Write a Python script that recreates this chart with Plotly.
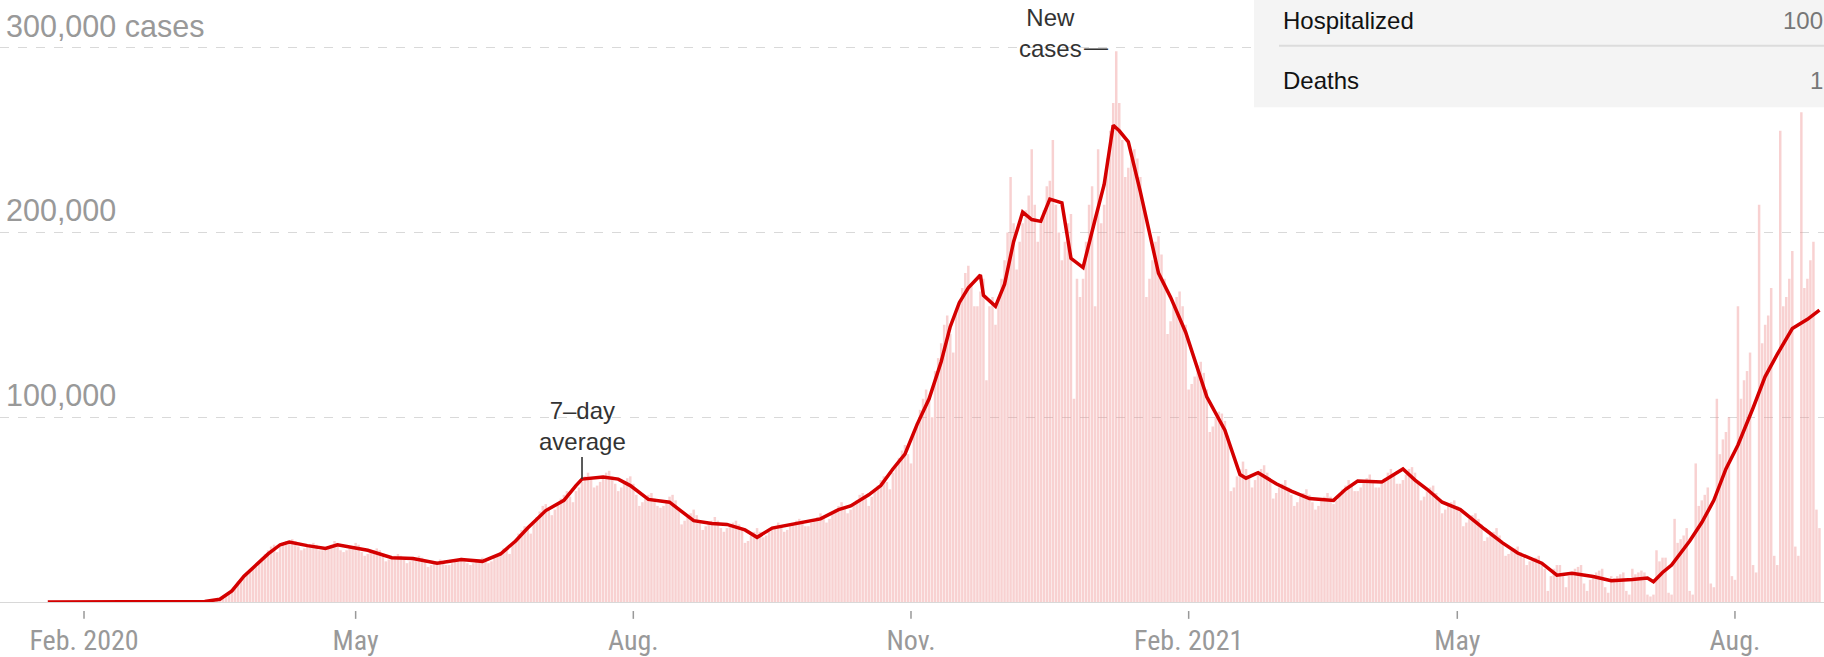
import pandas as pd
import plotly.graph_objects as go

# ---------------- data ----------------
# Daily new cases (thousands), weeks Monday..Sunday starting 2020-01-20
weekly_rows = [
    [0, 0, 0, 0, 0, 0, 0],
    [0, 0, 0, 0, 0, 0, 0],
    [0, 0, 0, 0, 0, 0, 0],
    [0, 0, 0, 0, 0, 0, 0],
    [0, 0, 0, 0, 0, 0, 0],
    [0, 0, 0, 0.01, 0.01, 0.01, 0.02],
    [0.02, 0.03, 0.04, 0.05, 0.07, 0.1, 0.1],
    [0.15, 0.2, 0.3, 0.4, 0.5, 0.6, 0.8],
    [1.0, 1.5, 2.5, 4.0, 5.5, 7, 8],
    [11, 12, 14, 16, 17, 18, 19],
    [22, 24, 26, 28, 30, 31, 27],
    [30, 31, 33, 33, 34, 33, 30],
    [28, 29, 30, 31, 32, 31, 28],
    [28, 29, 30, 31, 33, 32, 28],
    [27, 28, 29, 30, 32, 31, 27],
    [25, 26, 27, 28, 29, 28, 25],
    [22, 23, 24, 25, 26, 25, 23],
    [21, 22, 23, 24, 25, 24, 22],
    [19, 20, 21, 22, 23, 22, 20],
    [20, 21, 22, 23, 24, 23, 21],
    [20, 21, 22, 23, 24, 23, 21],
    [22, 24, 26, 27, 29, 28, 26],
    [31, 34, 37, 39, 41, 40, 37],
    [43, 46, 49, 52, 53, 50, 47],
    [50, 53, 56, 58, 60, 57, 54],
    [60, 62, 65, 68, 70, 67, 62],
    [63, 65, 68, 70, 71, 68, 64],
    [60, 62, 65, 67, 68, 64, 58],
    [52, 54, 56, 58, 59, 56, 52],
    [51, 52, 55, 57, 58, 55, 51],
    [42, 44, 46, 48, 50, 47, 44],
    [39, 41, 43, 44, 46, 44, 40],
    [38, 40, 41, 43, 44, 42, 39],
    [32, 33, 36, 38, 40, 38, 35],
    [36, 38, 40, 41, 43, 41, 38],
    [39, 41, 42, 44, 45, 44, 41],
    [41, 43, 44, 46, 48, 46, 43],
    [45, 48, 50, 52, 54, 51, 48],
    [50, 53, 55, 58, 59, 56, 52],
    [57, 60, 63, 66, 68, 65, 61],
    [70, 74, 78, 82, 85, 80, 75],
    [92, 97, 104, 110, 115, 110, 100],
    [125, 132, 140, 150, 155, 145, 135],
    [158, 163, 170, 178, 182, 172, 160],
    [160, 168, 175, 120, 160, 165, 150],
    [165, 175, 185, 200, 230, 205, 180],
    [195, 205, 212, 220, 245, 215, 195],
    [205, 212, 225, 228, 250, 215, 200],
    [185, 195, 205, 210, 110, 175, 165],
    [175, 195, 215, 225, 160, 245, 205],
    [215, 240, 255, 270, 298, 270, 250],
    [230, 235, 240, 245, 240, 230, 215],
    [165, 175, 185, 195, 198, 188, 175],
    [145, 152, 160, 165, 168, 160, 150],
    [115, 118, 122, 128, 130, 124, 115],
    [92, 95, 100, 103, 102, 98, 90],
    [60, 62, 68, 72, 76, 72, 68],
    [62, 66, 70, 72, 74, 70, 66],
    [56, 59, 62, 64, 66, 62, 58],
    [52, 54, 57, 59, 61, 58, 54],
    [50, 52, 55, 57, 59, 57, 53],
    [55, 58, 61, 63, 66, 64, 60],
    [60, 62, 65, 67, 69, 66, 62],
    [62, 64, 67, 70, 72, 69, 64],
    [64, 66, 69, 72, 73, 70, 65],
    [55, 57, 60, 62, 63, 59, 55],
    [48, 50, 52, 54, 55, 52, 49],
    [41, 43, 45, 47, 48, 45, 42],
    [33, 35, 37, 38, 40, 36, 32],
    [25, 26, 28, 29, 30, 27, 24],
    [20, 22, 23, 24, 25, 21, 18],
    [6, 14, 18, 20, 20, 14, 8],
    [14, 16, 18, 19, 20, 10, 6],
    [12, 14, 16, 17, 18, 8, 5],
    [14, 13, 14, 15, 16, 6, 4],
    [18, 15, 16, 17, 16, 4, 3],
    [4, 28, 22, 24, 24, 5, 4],
    [45, 32, 34, 36, 40, 6, 4],
    [75, 52, 55, 58, 62, 10, 8],
    [110, 80, 88, 92, 100, 14, 12],
    [160, 110, 120, 125, 135, 20, 16],
    [215, 140, 150, 155, 170, 25, 20],
    [255, 160, 165, 175, 190, 30, 25],
    [265, 170, 175, 185, 195, 50, 40],
]
first_day = "2020-01-20"

# 7-day average (thousands)
avg_dates = [
    "2020-01-20", "2020-03-02", "2020-03-12", "2020-03-17", "2020-03-21", "2020-03-25",
    "2020-03-29", "2020-04-02", "2020-04-06", "2020-04-09", "2020-04-15", "2020-04-21",
    "2020-04-25", "2020-04-30", "2020-05-05", "2020-05-13", "2020-05-20", "2020-05-28",
    "2020-06-05", "2020-06-12", "2020-06-18", "2020-06-23", "2020-06-27", "2020-07-03",
    "2020-07-09", "2020-07-13", "2020-07-15", "2020-07-22", "2020-07-27", "2020-07-31",
    "2020-08-06", "2020-08-13", "2020-08-21", "2020-08-27", "2020-09-01", "2020-09-07",
    "2020-09-11", "2020-09-16", "2020-09-24", "2020-10-02", "2020-10-08", "2020-10-12",
    "2020-10-18", "2020-10-22", "2020-10-26", "2020-10-30", "2020-11-03", "2020-11-07",
    "2020-11-11", "2020-11-14", "2020-11-17", "2020-11-20", "2020-11-24", "2020-11-25",
    "2020-11-29", "2020-12-02", "2020-12-05", "2020-12-08", "2020-12-11", "2020-12-14",
    "2020-12-17", "2020-12-21", "2020-12-24", "2020-12-28", "2021-01-01", "2021-01-04",
    "2021-01-07", "2021-01-09", "2021-01-12", "2021-01-16", "2021-01-22", "2021-01-26",
    "2021-01-31", "2021-02-07", "2021-02-13", "2021-02-18", "2021-02-20", "2021-02-24",
    "2021-03-02", "2021-03-07", "2021-03-13", "2021-03-21", "2021-03-25", "2021-03-29",
    "2021-04-06", "2021-04-13", "2021-04-17", "2021-04-21", "2021-04-26", "2021-05-02",
    "2021-05-10", "2021-05-16", "2021-05-21", "2021-05-29", "2021-06-03", "2021-06-08",
    "2021-06-15", "2021-06-21", "2021-06-28", "2021-07-03", "2021-07-05", "2021-07-08",
    "2021-07-11", "2021-07-17", "2021-07-21", "2021-07-25", "2021-07-29", "2021-08-02",
    "2021-08-07", "2021-08-11", "2021-08-15", "2021-08-20", "2021-08-25", "2021-08-29",
]
avg_values = [
    0, 0.05, 0.3, 1.5, 6, 14,
    20, 26, 31, 32.4, 30.5, 29,
    31, 29.5, 28, 24, 23.5, 21,
    23, 22, 26, 33, 40, 49.5,
    55, 63, 66.5, 67.6, 66.5, 63,
    55.5, 54, 44, 42.5, 42, 39,
    35, 40, 42.5, 45, 50, 52,
    58, 63, 72, 80, 96, 110,
    130, 149, 162, 170, 177, 166,
    160, 172, 195, 211, 207, 206,
    218, 216, 186, 181, 207, 226,
    258, 255, 249, 222, 178, 165,
    146, 111, 93, 69, 67, 70,
    64, 60, 56, 55, 61, 65.5,
    65, 72, 66, 61, 54, 50,
    39.5, 32, 26.5, 21, 14.5, 15.5,
    13.8, 11.5, 12.2, 13, 11, 16,
    20, 33, 43, 55, 72, 85,
    105, 122, 134, 148, 153, 158,
]

tick_dates = ["2020-02-01", "2020-05-01", "2020-08-01", "2020-11-01",
              "2021-02-01", "2021-05-01", "2021-08-01"]
tick_labels = ["Feb. 2020", "May", "Aug.", "Nov.", "Feb. 2021", "May", "Aug."]

grid_values = [100000, 200000, 300000]
grid_labels = ["100,000", "200,000", "300,000 cases"]

table_rows = ["Hospitalized", "Deaths"]
table_values = ["100", "1"]

# ---------------- figure ----------------
daily = [v * 1000 for row in weekly_rows for v in row]
daily_dates = pd.date_range(first_day, periods=len(daily), freq="D")
avg = [v * 1000 for v in avg_values]

FONT = "Liberation Sans, Arial, sans-serif"
NARROW = "Liberation Sans Narrow, Arial Narrow, Roboto Condensed, Liberation Sans, sans-serif"
W, H, PB = 1824, 657, 51
PLOT_H = H - PB


def py(px):
    return (PLOT_H - px) / PLOT_H


fig = go.Figure()
fig.add_trace(go.Bar(
    x=daily_dates, y=daily,
    marker=dict(color="rgba(238,140,140,0.40)", line=dict(width=0)),
    hoverinfo="skip",
))
fig.add_trace(go.Scatter(
    x=pd.to_datetime(avg_dates), y=avg, mode="lines",
    line=dict(color="#d40000", width=3.5),
    hoverinfo="skip",
))

fig.update_layout(
    width=W, height=H,
    margin=dict(l=0, r=0, t=0, b=PB),
    paper_bgcolor="white", plot_bgcolor="white",
    showlegend=False, bargap=0.18,
    font=dict(family=FONT, color="#999"),
)
fig.update_xaxes(
    type="date",
    range=["2020-01-04 04:00", "2021-08-30 12:00"],
    tickvals=pd.to_datetime(tick_dates), ticktext=tick_labels,
    ticks="", ticklabelstandoff=13,
    tickfont=dict(size=28, color="#999", family=NARROW),
    showgrid=False, showline=True, linecolor="#d8d8d8", linewidth=1,
    zeroline=False,
)
fig.update_yaxes(
    range=[0, 325800],
    tickvals=grid_values, showticklabels=False,
    showgrid=True, gridcolor="#d9d9d9", griddash="dash", gridwidth=1,
    zeroline=False, showline=False,
)

# y labels above gridlines
for v, lab in zip(grid_values, grid_labels):
    fig.add_annotation(
        x=0, xref="paper", xanchor="left", xshift=4,
        y=v, yref="y", yanchor="middle", yshift=22,
        text=lab, showarrow=False,
        font=dict(size=30.5, color="#999", family=FONT),
    )

# small tick marks under the axis
for d in tick_dates:
    fig.add_shape(
        type="line", xref="x", yref="paper",
        x0=d, x1=d, y0=-0.015, y1=-0.028,
        line=dict(color="#999", width=1.5), layer="above",
    )

# annotations
fig.add_annotation(
    x="2020-07-15", xref="x", y=66500, yref="y",
    ax=0, ay=-22, showarrow=True, arrowhead=0, arrowwidth=1.6, arrowcolor="#333",
    text="7\u2013day<br>average", align="center",
    font=dict(size=24, color="#333", family=FONT),
    yanchor="bottom",
)
fig.add_annotation(
    x=1050 / W, xref="paper", xanchor="center",
    y=py(33), yref="paper", yanchor="middle",
    text="New<br>cases", align="center", showarrow=False,
    font=dict(size=24, color="#333", family=FONT),
)
fig.add_annotation(
    x=1096 / W, xref="paper", xanchor="center",
    y=py(47), yref="paper", yanchor="middle",
    text="\u2014", showarrow=False,
    font=dict(size=24, color="#333", family=FONT),
)

# table overlay (top right)
fig.add_shape(type="rect", xref="paper", yref="paper",
              x0=1254 / W, x1=1.0, y0=py(108), y1=1.0,
              fillcolor="#f4f4f4", line=dict(width=0), layer="above")
fig.add_shape(type="line", xref="paper", yref="paper",
              x0=1279 / W, x1=1.0, y0=py(46), y1=py(46),
              line=dict(color="#dcdcdc", width=2), layer="above")
for lab, val, ypx in zip(table_rows, table_values, [21, 81]):
    fig.add_annotation(x=1281 / W, xref="paper", xanchor="left",
                       y=py(ypx), yref="paper", yanchor="middle",
                       text=lab, showarrow=False,
                       font=dict(size=24, color="#121212", family=FONT))
    fig.add_annotation(x=1.0, xref="paper", xanchor="right", xshift=1,
                       y=py(ypx), yref="paper", yanchor="middle",
                       text=val, showarrow=False,
                       font=dict(size=24, color="#777", family=FONT))

fig.write_html("out.html", config={"displayModeBar": False},
               post_script="document.body.style.margin='0px';")
